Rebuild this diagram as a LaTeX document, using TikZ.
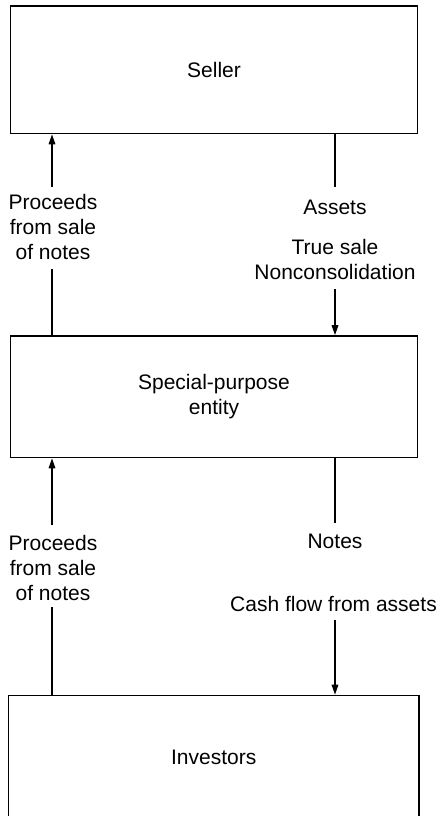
\documentclass[tikz,border=0pt]{standalone}
\usepackage{fontspec}
\setmainfont{Liberation Sans}
\usetikzlibrary{arrows.meta}
\begin{document}
\begin{tikzpicture}[x=1pt,y=-1pt,
  party/.style={draw, line width=1.6pt, inner sep=0pt, align=center,
    font=\fontsize{21}{25}\selectfont},
  lbl/.style={inner sep=0pt, align=center, font=\fontsize{21}{25}\selectfont},
  flow/.style={line width=1.6pt},
  flowarr/.style={line width=1.6pt, -{Triangle[length=10pt,width=6.5pt]}}]
  \useasboundingbox (0,0) rectangle (440,816);
  \clip (0,0) rectangle (440,816);

  % the three parties
  \node[party, minimum width=407pt, minimum height=127.5pt] (seller) at (214,69.75) {Seller};
  \node[party, minimum width=407pt, minimum height=121.5pt] (spe) at (214,396.75)
    {Special-purpose\\entity};
  \node[party, minimum width=410.5pt, minimum height=124pt] (inv) at (213.75,757.5) {Investors};

  % labels between seller and SPE
  \node[lbl] (procA) at (53,227) {Proceeds\\from sale\\of notes};
  \node[lbl] (assets) at (335,207) {Assets};
  \node[lbl] (truesale) at (335,259.5) {True sale\\Nonconsolidation};

  % labels between SPE and investors
  \node[lbl] (procB) at (53,567.5) {Proceeds\\from sale\\of notes};
  \node[lbl] (notes) at (335,541) {Notes};
  \node[lbl] (cash) at (333.5,604) {Cash flow from assets};

  % gap ends of the connectors
  \coordinate (pa1) at (52,187);
  \coordinate (pa2) at (52,269);
  \coordinate (aa1) at (335,187);
  \coordinate (aa2) at (335,289);
  \coordinate (pb1) at (52,525);
  \coordinate (pb2) at (52,607);
  \coordinate (nb1) at (335,523);
  \coordinate (nb2) at (335,620);

  % proceeds flow upward, assets and notes flow downward
  \draw[flow] (spe.north -| pa2) -- (pa2);
  \draw[flowarr] (pa1) -- (seller.south -| pa1);
  \draw[flow] (seller.south -| aa1) -- (aa1);
  \draw[flowarr] (aa2) -- (spe.north -| aa2);

  \draw[flow] (inv.north -| pb2) -- (pb2);
  \draw[flowarr] (pb1) -- (spe.south -| pb1);
  \draw[flow] (spe.south -| nb1) -- (nb1);
  \draw[flowarr] (nb2) -- (inv.north -| nb2);
\end{tikzpicture}
\end{document}
